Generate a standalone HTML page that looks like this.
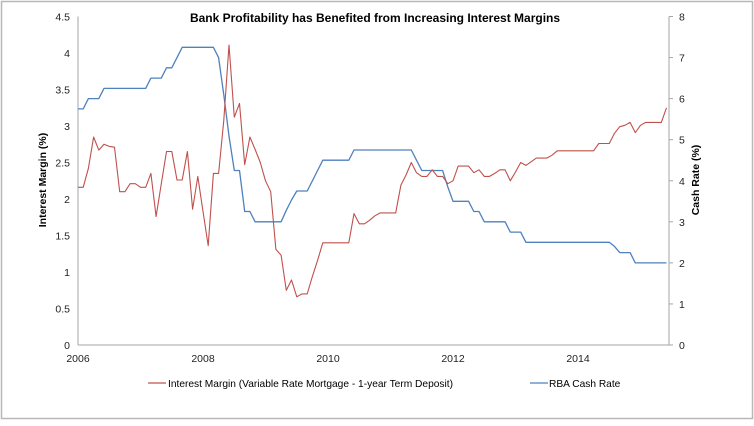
<!DOCTYPE html>
<html><head><meta charset="utf-8"><style>
html,body{margin:0;padding:0;background:#fff}
body{width:754px;height:421px;overflow:hidden;font-family:"Liberation Sans",sans-serif}
</style></head><body>
<svg id="chart" width="754" height="421" viewBox="0 0 754 421" xmlns="http://www.w3.org/2000/svg" font-family="Liberation Sans, sans-serif">
<rect x="1.5" y="1.5" width="751" height="417" fill="#fff" stroke="#b8b8b8" stroke-width="1.5"/>
<text x="375" y="22" text-anchor="middle" font-size="12" font-weight="bold" fill="#000">Bank Profitability has Benefited from Increasing Interest Margins</text>
<g id="axes"></g>
<g id="series"></g>
<text transform="translate(46,180) rotate(-90)" text-anchor="middle" font-size="10.5" font-weight="bold">Interest Margin (%)</text>
<text transform="translate(699,180) rotate(-90)" text-anchor="middle" font-size="10.5" font-weight="bold">Cash Rate (%)</text>
<g>
<line x1="148" y1="383" x2="166" y2="383" stroke="#c0504d" stroke-width="1.2"/>
<text x="168" y="387" font-size="10.2">Interest Margin (Variable Rate Mortgage - 1-year Term Deposit)</text>
</g>
<g>
<line x1="530" y1="383" x2="548" y2="383" stroke="#4f81bd" stroke-width="1.2"/>
<text x="549" y="387" font-size="10.2">RBA Cash Rate</text>
</g>
</svg>
<script>
const startYear = 2006;
const xTickLabels = ["2006","2008","2010","2012","2014"];
const leftTicks = ["0","0.5","1","1.5","2","2.5","3","3.5","4","4.5"];
const rightTicks = ["0","1","2","3","4","5","6","7","8"];
const interestMargin = [2.16,2.16,2.42,2.85,2.67,2.75,2.72,2.71,2.10,2.10,2.21,2.21,2.16,2.16,2.35,1.76,2.21,2.65,2.65,2.26,2.26,2.65,1.86,2.31,1.83,1.36,2.35,2.35,3.08,4.11,3.12,3.31,2.47,2.85,2.68,2.50,2.25,2.10,1.31,1.23,0.75,0.89,0.66,0.70,0.70,0.94,1.16,1.40,1.40,1.40,1.40,1.40,1.40,1.80,1.66,1.66,1.71,1.77,1.81,1.81,1.81,1.81,2.19,2.33,2.50,2.36,2.31,2.31,2.40,2.31,2.31,2.21,2.25,2.45,2.45,2.45,2.36,2.40,2.31,2.31,2.35,2.40,2.40,2.25,2.37,2.50,2.46,2.51,2.56,2.56,2.56,2.60,2.66,2.66,2.66,2.66,2.66,2.66,2.66,2.66,2.76,2.76,2.76,2.90,2.99,3.01,3.05,2.91,3.01,3.05,3.05,3.05,3.05,3.25];
const cashRate = [5.75,5.75,6.0,6.0,6.0,6.25,6.25,6.25,6.25,6.25,6.25,6.25,6.25,6.25,6.5,6.5,6.5,6.75,6.75,7.0,7.25,7.25,7.25,7.25,7.25,7.25,7.25,7.0,6.09,5.09,4.25,4.25,3.25,3.25,3.0,3.0,3.0,3.0,3.0,3.0,3.28,3.53,3.75,3.75,3.75,4.0,4.25,4.5,4.5,4.5,4.5,4.5,4.5,4.75,4.75,4.75,4.75,4.75,4.75,4.75,4.75,4.75,4.75,4.75,4.75,4.5,4.25,4.25,4.25,4.25,4.25,3.85,3.5,3.5,3.5,3.5,3.25,3.25,3.0,3.0,3.0,3.0,3.0,2.75,2.75,2.75,2.5,2.5,2.5,2.5,2.5,2.5,2.5,2.5,2.5,2.5,2.5,2.5,2.5,2.5,2.5,2.5,2.5,2.4,2.25,2.25,2.25,2.0,2.0,2.0,2.0,2.0,2.0,2.0];

const NS="http://www.w3.org/2000/svg";
const X0=78, X1=669, Y0=345, Y1=16.5;
const pxPerYear=62.5;
function xScale(yr){return X0+(yr-startYear)*pxPerYear;}
function yLeft(v){return Y0-(v/4.5)*(Y0-Y1);}
function yRight(v){return Y0-(v/8)*(Y0-Y1);}
function mk(tag,attrs,parent){const e=document.createElementNS(NS,tag);for(const k in attrs)e.setAttribute(k,attrs[k]);parent.appendChild(e);return e;}
const axes=document.getElementById('axes');
const series=document.getElementById('series');

const la=mk('line',{x1:X0,y1:Y1,x2:X0,y2:Y0,stroke:'#a6a6a6','stroke-width':1},axes);


const ra=mk('line',{x1:X1,y1:Y1,x2:X1,y2:Y0,stroke:'#a6a6a6','stroke-width':1},axes);


const xa=mk('line',{x1:X0,y1:Y0,x2:X1,y2:Y0,stroke:'#a6a6a6','stroke-width':1},axes);



leftTicks.forEach(t=>{
  const y=yLeft(parseFloat(t));
  const tx=mk('text',{x:70,y:y+4,'text-anchor':'end','font-size':10.5,fill:'#222'},axes);
  tx.textContent=t;
  
  
});
rightTicks.forEach(t=>{
  const y=yRight(parseFloat(t));
  const tk=mk('line',{x1:X1,y1:y,x2:X1+4,y2:y,stroke:'#a6a6a6'},axes);
  
  
  const tx=mk('text',{x:679,y:y+4,'font-size':10.5,fill:'#222'},axes);
  tx.textContent=t;
  
  
});
xTickLabels.forEach(t=>{
  const x=xScale(parseFloat(t));
  const tx=mk('text',{x:x,y:362,'text-anchor':'middle','font-size':10.5,fill:'#222'},axes);
  tx.textContent=t;
  
  
});

function pts(arr,ys){return arr.map((v,i)=>xScale(startYear+i/12).toFixed(1)+','+ys(v).toFixed(1)).join(' ');}
const cl=mk('polyline',{points:pts(cashRate,yRight),fill:'none',stroke:'#4f81bd','stroke-width':1.3,'stroke-linejoin':'round'},series);


const ml=mk('polyline',{points:pts(interestMargin,yLeft),fill:'none',stroke:'#c0504d','stroke-width':1.1,'stroke-linejoin':'round'},series);


</script>
</body></html>
